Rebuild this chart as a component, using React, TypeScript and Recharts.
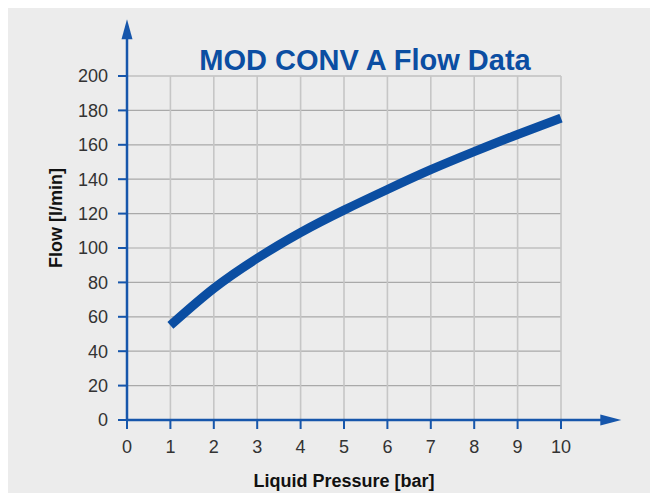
import { CartesianGrid, Line, LineChart, ReferenceLine, XAxis, YAxis } from "recharts";

const pressure = [1, 2, 3, 4, 5, 6, 7, 8, 9, 10];
const flow = [55, 76.5, 94, 109, 122, 134, 145.5, 156, 166, 175.5];
const xTicks = [0, 1, 2, 3, 4, 5, 6, 7, 8, 9, 10];
const yTicks = [0, 20, 40, 60, 80, 100, 120, 140, 160, 180, 200];

const data = pressure.map((p, i) => ({ p, q: flow[i] }));

const BLUE = "#0b4ea2";
const AXIS_BLUE = "#1656ab";
const FONT = '"Liberation Sans", Arial, Helvetica, sans-serif';

function ArrowY(props: any) {
  const { x1, y1, x2, y2 } = props;
  return (
    <g>
      <line x1={x1} y1={y1} x2={x2} y2={y2 + 18} stroke={AXIS_BLUE} strokeWidth={2.5} />
      <polygon points={`${x2},${y2} ${x2 - 5.5},${y2 + 20} ${x2 + 5.5},${y2 + 20}`} fill={AXIS_BLUE} />
    </g>
  );
}

function ArrowX(props: any) {
  const { x1, y1, x2, y2 } = props;
  return (
    <g>
      <line x1={x1} y1={y1} x2={x2 - 18} y2={y2} stroke={AXIS_BLUE} strokeWidth={2.5} />
      <polygon points={`${x2},${y2} ${x2 - 21},${y2 - 5.5} ${x2 - 21},${y2 + 5.5}`} fill={AXIS_BLUE} />
    </g>
  );
}

export default function App() {
  return (
    <div style={{ position: "relative", width: 651, height: 485, marginLeft: -1, background: "#ececec", fontFamily: FONT }}>
      <LineChart width={651} height={485} data={data} margin={{ top: 68, right: 97, left: 60, bottom: 33 }}>
        <CartesianGrid vertical={false} stroke="#a9a9a9" strokeWidth={1.2} />
        <CartesianGrid horizontal={false} stroke="#c6c6c6" strokeWidth={1.6} />
        <XAxis
          type="number"
          dataKey="p"
          domain={[0, 10]}
          ticks={xTicks}
          height={40}
          axisLine={false}
          tickLine={{ stroke: AXIS_BLUE, strokeWidth: 2 }}
          tickSize={9}
          tickMargin={11}
          tick={{ fill: "#333", fontSize: 18, fontFamily: FONT }}
          interval={0}
        />
        <YAxis
          type="number"
          domain={[0, 200]}
          ticks={yTicks}
          width={60}
          axisLine={false}
          tickLine={{ stroke: AXIS_BLUE, strokeWidth: 2 }}
          tickSize={9}
          tickMargin={10}
          tick={{ fill: "#333", fontSize: 18, fontFamily: FONT }}
          interval={0}
        />
        <Line
          type="natural"
          dataKey="q"
          stroke={BLUE}
          strokeWidth={9}
          dot={false}
          activeDot={false}
          isAnimationActive={false}
        />
        <ReferenceLine segment={[{ x: 0, y: 0 }, { x: 0, y: 233 }]} ifOverflow="visible" shape={ArrowY} />
        <ReferenceLine segment={[{ x: 0, y: 0 }, { x: 11.39, y: 0 }]} ifOverflow="visible" shape={ArrowX} />
      </LineChart>
      <svg width={651} height={485} style={{ position: "absolute", left: 0, top: 0, pointerEvents: "none" }}>
        <text x={358} y={62} textAnchor="middle" fill={BLUE} fontSize={29} fontWeight="bold" fontFamily={FONT}>
          MOD CONV A Flow Data
        </text>
        <text x={337} y={479} textAnchor="middle" fill="#111" fontSize={18} fontWeight="bold" fontFamily={FONT}>
          Liquid Pressure [bar]
        </text>
        <text
          x={55}
          y={210}
          textAnchor="middle"
          fill="#111"
          fontSize={18}
          fontWeight="bold"
          fontFamily={FONT}
          transform="rotate(-90 55 210)"
        >
          Flow [l/min]
        </text>
      </svg>
    </div>
  );
}
